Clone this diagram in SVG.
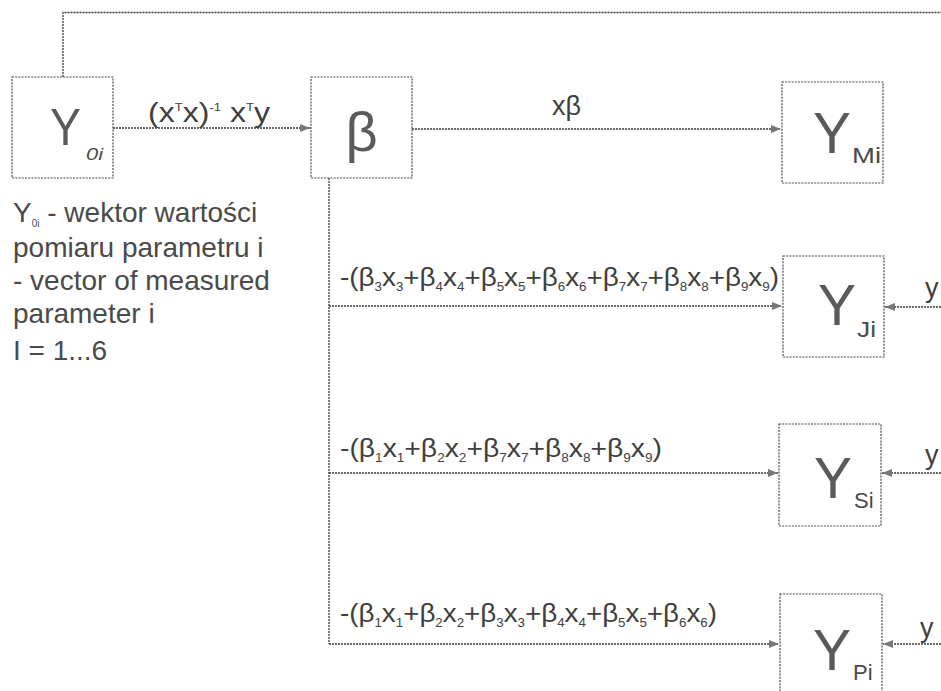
<svg xmlns="http://www.w3.org/2000/svg" width="941" height="691" viewBox="0 0 941 691">
<style>
  .ln{fill:none;stroke:#3a3a3a;stroke-width:1.3;stroke-dasharray:2 1}
  .box{fill:#fff;stroke:#4a4a4a;stroke-width:1.2;stroke-dasharray:2 1.2}
  text{font-family:"Liberation Sans",Arial,sans-serif;fill:#404040}
  .big{font-size:57px;fill:#5a5a5a}
  .bsub{font-size:22px;fill:#4a4a4a}
  .lbl{font-size:25px}
  .sb{font-size:12px}
  .sp{font-size:11px}
  .leg{font-size:28px;fill:#4a4a4a}
</style>
<defs>
  <marker id="ah" markerUnits="userSpaceOnUse" markerWidth="11" markerHeight="9" refX="10" refY="4" orient="auto">
    <path d="M0,0 L10,4 L0,8 z" fill="#777"/>
  </marker>
</defs>
<rect width="941" height="691" fill="#fff"/>

<g id="connectors">
  <path class="ln" d="M63,77 V12.5 H941"/>
  <path class="ln" d="M113,128 H310" marker-end="url(#ah)"/>
  <path class="ln" d="M412,129 H781" marker-end="url(#ah)"/>
  <path class="ln" d="M329,178 V644"/>
  <path class="ln" d="M329,306 H782" marker-end="url(#ah)"/>
  <path class="ln" d="M329,473 H778" marker-end="url(#ah)"/>
  <path class="ln" d="M329,644 H779" marker-end="url(#ah)"/>
  <path class="ln" d="M941,307 H885" marker-end="url(#ah)"/>
  <path class="ln" d="M941,473 H882" marker-end="url(#ah)"/>
  <path class="ln" d="M941,644 H883" marker-end="url(#ah)"/>
</g>

<g id="edge-labels">
  <text x="148" y="122" style="font-size:27px" textLength="122" lengthAdjust="spacingAndGlyphs">(x<tspan class="sp" dy="-11">T</tspan><tspan dy="11">x)</tspan><tspan class="sp" dy="-11">-1</tspan><tspan dy="11"> x</tspan><tspan class="sp" dy="-11">T</tspan><tspan dy="11">y</tspan></text>
  <text x="552" y="115" style="font-size:27px">xβ</text>
  <text class="lbl" x="340" y="286" textLength="439" lengthAdjust="spacingAndGlyphs">-(β<tspan class="sb" dy="5">3</tspan><tspan dy="-5">x</tspan><tspan class="sb" dy="5">3</tspan><tspan dy="-5">+β</tspan><tspan class="sb" dy="5">4</tspan><tspan dy="-5">x</tspan><tspan class="sb" dy="5">4</tspan><tspan dy="-5">+β</tspan><tspan class="sb" dy="5">5</tspan><tspan dy="-5">x</tspan><tspan class="sb" dy="5">5</tspan><tspan dy="-5">+β</tspan><tspan class="sb" dy="5">6</tspan><tspan dy="-5">x</tspan><tspan class="sb" dy="5">6</tspan><tspan dy="-5">+β</tspan><tspan class="sb" dy="5">7</tspan><tspan dy="-5">x</tspan><tspan class="sb" dy="5">7</tspan><tspan dy="-5">+β</tspan><tspan class="sb" dy="5">8</tspan><tspan dy="-5">x</tspan><tspan class="sb" dy="5">8</tspan><tspan dy="-5">+β</tspan><tspan class="sb" dy="5">9</tspan><tspan dy="-5">x</tspan><tspan class="sb" dy="5">9</tspan><tspan dy="-5">)</tspan></text>
  <text class="lbl" x="340" y="457" textLength="322" lengthAdjust="spacingAndGlyphs">-(β<tspan class="sb" dy="5">1</tspan><tspan dy="-5">x</tspan><tspan class="sb" dy="5">1</tspan><tspan dy="-5">+β</tspan><tspan class="sb" dy="5">2</tspan><tspan dy="-5">x</tspan><tspan class="sb" dy="5">2</tspan><tspan dy="-5">+β</tspan><tspan class="sb" dy="5">7</tspan><tspan dy="-5">x</tspan><tspan class="sb" dy="5">7</tspan><tspan dy="-5">+β</tspan><tspan class="sb" dy="5">8</tspan><tspan dy="-5">x</tspan><tspan class="sb" dy="5">8</tspan><tspan dy="-5">+β</tspan><tspan class="sb" dy="5">9</tspan><tspan dy="-5">x</tspan><tspan class="sb" dy="5">9</tspan><tspan dy="-5">)</tspan></text>
  <text class="lbl" x="340" y="622" textLength="377" lengthAdjust="spacingAndGlyphs">-(β<tspan class="sb" dy="5">1</tspan><tspan dy="-5">x</tspan><tspan class="sb" dy="5">1</tspan><tspan dy="-5">+β</tspan><tspan class="sb" dy="5">2</tspan><tspan dy="-5">x</tspan><tspan class="sb" dy="5">2</tspan><tspan dy="-5">+β</tspan><tspan class="sb" dy="5">3</tspan><tspan dy="-5">x</tspan><tspan class="sb" dy="5">3</tspan><tspan dy="-5">+β</tspan><tspan class="sb" dy="5">4</tspan><tspan dy="-5">x</tspan><tspan class="sb" dy="5">4</tspan><tspan dy="-5">+β</tspan><tspan class="sb" dy="5">5</tspan><tspan dy="-5">x</tspan><tspan class="sb" dy="5">5</tspan><tspan dy="-5">+β</tspan><tspan class="sb" dy="5">6</tspan><tspan dy="-5">x</tspan><tspan class="sb" dy="5">6</tspan><tspan dy="-5">)</tspan></text>
  <text x="925" y="297" style="font-size:27px">y</text>
  <text x="925" y="464" style="font-size:27px">y</text>
  <text x="920" y="637" style="font-size:27px">y</text>
</g>

<g id="n-y0i">
  <rect class="box" x="12" y="77" width="101" height="101"/>
  <text class="big" x="50" y="145" style="font-size:51px" textLength="31" lengthAdjust="spacingAndGlyphs">Y</text>
  <text class="bsub" x="86" y="160" style="font-size:17px;font-style:italic" textLength="17" lengthAdjust="spacingAndGlyphs">0i</text>
</g>

<g id="n-beta">
  <rect class="box" x="311" y="77" width="101" height="101"/>
  <text x="361.5" y="151" text-anchor="middle" style="font-size:56px;fill:#5a5a5a">β</text>
</g>

<g id="n-ymi">
  <rect class="box" x="782" y="82" width="101" height="101"/>
  <text class="big" x="813" y="153">Y</text>
  <text class="bsub" x="852" y="163" textLength="29" lengthAdjust="spacingAndGlyphs">Mi</text>
</g>

<g id="n-yji">
  <rect class="box" x="783" y="256" width="101" height="101"/>
  <text class="big" x="818" y="325">Y</text>
  <text class="bsub" x="857" y="337" textLength="19" lengthAdjust="spacingAndGlyphs">Ji</text>
</g>

<g id="n-ysi">
  <rect class="box" x="779" y="424" width="102" height="102"/>
  <text class="big" x="814" y="498">Y</text>
  <text class="bsub" x="854" y="508">Si</text>
</g>

<g id="n-ypi">
  <rect class="box" x="780" y="594" width="102" height="102"/>
  <text class="big" x="813" y="670">Y</text>
  <text class="bsub" x="853" y="680">Pi</text>
</g>

<g id="legend">
  <text class="leg" x="13" y="222">Y<tspan style="font-size:10px" dy="5">0i</tspan><tspan dy="-5"> - wektor wartości</tspan></text>
  <text class="leg" x="13" y="257">pomiaru parametru i</text>
  <text class="leg" x="13" y="290">- vector of measured</text>
  <text class="leg" x="13" y="323">parameter i</text>
  <text class="leg" x="13" y="360">I = 1...6</text>
</g>
</svg>
